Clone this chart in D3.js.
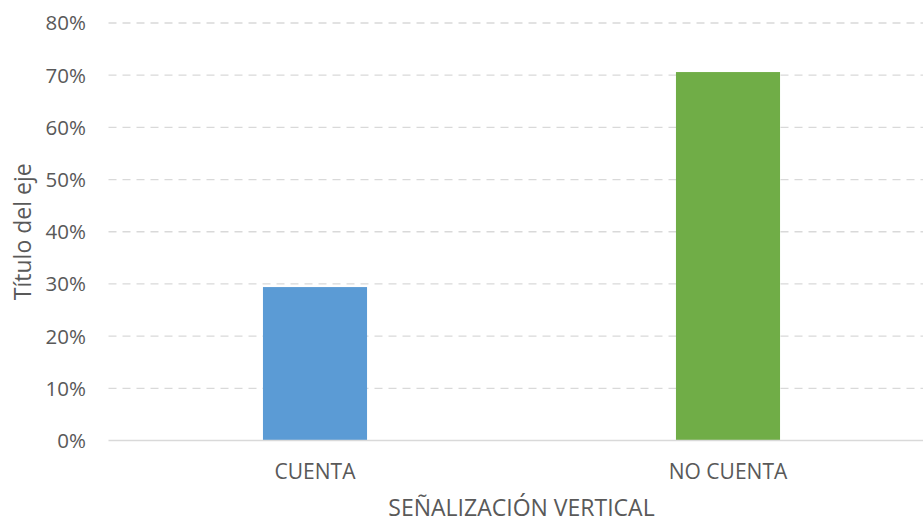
<!DOCTYPE html>
<html lang="es">
<head>
  <meta charset="UTF-8" />
  <title>Señalización vertical</title>
  <script src="https://d3js.org/d3.v7.min.js"></script>
  <style>
    body { margin: 0; overflow: hidden; background: #fff; }
    svg { display: block; }
    text { font-family: "Open Sans", "Liberation Sans", sans-serif; fill: #595959; }
    .grid line { stroke: #d9d9d9; stroke-width: 1.3px; stroke-dasharray: 8 6; }
    .baseline { stroke: #d9d9d9; stroke-width: 1.5px; }
  </style>
</head>
<body>
  <svg width="923" height="521"></svg>
  <script>
    // Datos del gráfico
    const categorias = ["CUENTA", "NO CUENTA"];
    const valores = [0.294, 0.706];
    const colores = ["#5B9BD5", "#70AD47"];
    const ticksY = [0, 0.1, 0.2, 0.3, 0.4, 0.5, 0.6, 0.7, 0.8];

    const width = 923, height = 521;
    const svg = d3.select("svg");

    // Área de trazado (el gráfico original está recortado a la derecha)
    const margen = { izq: 108.5, der: 934.5, sup: 23, inf: 440.5 };

    const x = d3.scaleBand()
      .domain(categorias)
      .range([margen.izq, margen.der])
      .padding(0);

    const y = d3.scaleLinear()
      .domain([0, 0.8])
      .range([margen.inf, margen.sup]);

    const anchoBarra = x.bandwidth() * 0.252;

    // Líneas de cuadrícula
    svg.append("g").attr("class", "grid")
      .selectAll("line")
      .data(ticksY.filter(d => d > 0))
      .enter().append("line")
        .attr("x1", margen.izq)
        .attr("x2", margen.der)
        .attr("y1", d => y(d))
        .attr("y2", d => y(d));

    // Etiquetas del eje Y
    svg.append("g")
      .selectAll("text")
      .data(ticksY)
      .enter().append("text")
        .attr("x", 86)
        .attr("y", d => y(d))
        .attr("dy", "0.36em")
        .attr("text-anchor", "end")
        .style("font-size", "20.5px")
        .text(d => d3.format(".0%")(d));

    // Barras
    svg.append("g")
      .selectAll("rect")
      .data(valores)
      .enter().append("rect")
        .attr("x", (d, i) => x(categorias[i]) + (x.bandwidth() - anchoBarra) / 2)
        .attr("y", d => y(d))
        .attr("width", anchoBarra)
        .attr("height", d => y(0) - y(d))
        .attr("fill", (d, i) => colores[i]);

    // Línea base
    svg.append("line")
      .attr("class", "baseline")
      .attr("x1", margen.izq)
      .attr("x2", margen.der)
      .attr("y1", y(0))
      .attr("y2", y(0));

    // Etiquetas de categorías
    svg.append("g")
      .selectAll("text")
      .data(categorias)
      .enter().append("text")
        .attr("x", d => x(d) + x.bandwidth() / 2)
        .attr("y", 478.5)
        .attr("text-anchor", "middle")
        .style("font-size", "21px")
        .text(d => d);

    // Título del eje X
    svg.append("text")
      .attr("x", (margen.izq + margen.der) / 2)
      .attr("y", 515.5)
      .attr("text-anchor", "middle")
      .style("font-size", "23px")
      .text("SEÑALIZACIÓN VERTICAL");

    // Título del eje Y
    svg.append("text")
      .attr("transform", `translate(31, ${(margen.sup + margen.inf) / 2}) rotate(-90)`)
      .attr("text-anchor", "middle")
      .style("font-size", "23px")
      .text("Título del eje");
  </script>
</body>
</html>
